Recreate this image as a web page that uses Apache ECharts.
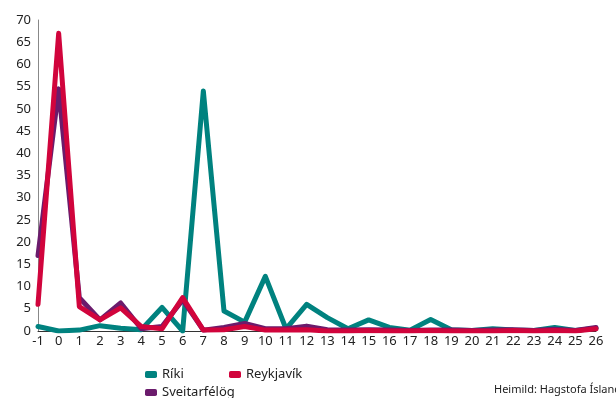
<!DOCTYPE html>
<html><head><meta charset="utf-8">
<script src="https://cdn.jsdelivr.net/npm/echarts@6/dist/echarts.min.js"></script>
<style>html,body{margin:0;padding:0;background:#fff}#c{width:616px;height:398px}</style>
</head><body><div id="c"></div>
<script>
const categories = ['-1','0','1','2','3','4','5','6','7','8','9','10','11','12','13','14','15','16','17','18','19','20','21','22','23','24','25','26'];
const riki =        [1, 0, 0.2, 1.2, 0.6, 0.3, 5.3, 0, 54, 4.5, 2, 12.3, 0.5, 6, 3, 0.5, 2.5, 0.8, 0.2, 2.6, 0.3, 0.1, 0.5, 0.2, 0.1, 0.8, 0.1, 0.6];
const sveitarfelog = [17, 54.5, 7.5, 2.5, 6.3, 0.5, 1, 7, 0.2, 0.8, 1.7, 0.5, 0.5, 1.1, 0.3, 0.2, 0.3, 0.2, 0.1, 0.2, 0.2, 0.1, 0.2, 0.3, 0.1, 0.4, 0.1, 0.8];
const reykjavik =   [6, 67, 5.5, 2.5, 5.2, 1, 0.5, 7.5, 0.2, 0.3, 1, 0.2, 0.2, 0.3, 0, 0, 0.1, 0, 0, 0.1, 0, 0, 0, 0.1, 0, 0.1, 0, 0.5];
const yTicks = [0,5,10,15,20,25,30,35,40,45,50,55,60,65,70];

const font = 'Noto Sans';
const chart = echarts.init(document.getElementById('c'));
const legendBase = {orient:'horizontal', icon:'roundRect', itemWidth:12, itemHeight:7, textStyle:{fontFamily:font, fontSize:13, color:'#222'}, selectedMode:false};
chart.setOption({
  animation:false,
  color:['#00827f','#6b1b6c','#d1043c'],
  grid:{left:38, right:20, top:20, bottom:67},
  xAxis:{type:'category', data:categories, boundaryGap:false,
    axisLine:{lineStyle:{color:'#333', width:1}}, axisTick:{show:false},
    axisLabel:{fontFamily:font, fontSize:13, color:'#222', margin:4, interval:0}},
  yAxis:{type:'value', min:yTicks[0], max:yTicks[yTicks.length-1], interval:5,
    axisLine:{show:true, lineStyle:{color:'#888', width:1}}, axisTick:{show:false},
    splitLine:{show:false},
    axisLabel:{fontFamily:font, fontSize:13, color:'#222', margin:7}},
  legend:[
    Object.assign({left:140, top:363, data:['Ríki']}, legendBase),
    Object.assign({left:224, top:363, data:['Reykjavík']}, legendBase),
    Object.assign({left:140, top:381, data:['Sveitarfélög']}, legendBase)
  ],
  graphic:[{type:'text', left:494, top:384, style:{text:'Heimild: Hagstofa Íslands', font:'11px "Noto Sans"', fill:'#222'}}],
  series:[
    {name:'Ríki', type:'line', data:riki, symbol:'none', lineStyle:{width:5, cap:'round', join:'round'}},
    {name:'Sveitarfélög', type:'line', data:sveitarfelog, symbol:'none', lineStyle:{width:5, cap:'round', join:'round'}},
    {name:'Reykjavík', type:'line', data:reykjavik, symbol:'none', lineStyle:{width:5, cap:'round', join:'round'}}
  ]
});
</script></body></html>
